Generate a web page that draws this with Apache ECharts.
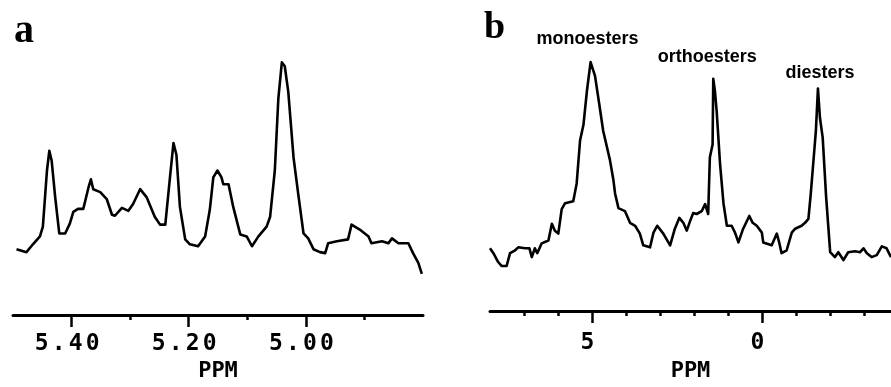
<!DOCTYPE html>
<html>
<head>
<meta charset="utf-8">
<title>31P NMR spectra</title>
<script src="https://cdn.jsdelivr.net/npm/echarts@6/dist/echarts.min.js"></script>
<style>
  html, body { margin: 0; padding: 0; background: #fff; }
  #chart { width: 891px; height: 387px; }
</style>
</head>
<body>
<div id="chart"></div>
<script>
// panel a - chemical shift (ppm) and signal height
const specAPpm = [5.494, 5.477, 5.466, 5.454, 5.449, 5.442, 5.438, 5.434, 5.428, 5.421,
  5.411, 5.403, 5.397, 5.389, 5.380, 5.371, 5.367, 5.363, 5.351, 5.340,
  5.331, 5.326, 5.314, 5.303, 5.295, 5.283, 5.272, 5.258, 5.249, 5.240,
  5.232, 5.226, 5.221, 5.215, 5.206, 5.198, 5.184, 5.172, 5.164, 5.158,
  5.151, 5.144, 5.141, 5.132, 5.124, 5.112, 5.101, 5.092, 5.081, 5.067,
  5.061, 5.053, 5.047, 5.041, 5.036, 5.030, 5.021, 5.013, 5.004, 4.996,
  4.987, 4.976, 4.967, 4.962, 4.947, 4.928, 4.922, 4.908, 4.893, 4.888,
  4.870, 4.859, 4.853, 4.842, 4.825, 4.817, 4.808, 4.802]
const specAInt = [67, 64, 72, 80, 90, 147, 167, 157, 120, 83,
  83, 93, 105, 108, 108, 130, 138, 128, 125, 118,
  102, 101, 109, 106, 113, 128, 120, 100, 92, 92,
  140, 175, 163, 110, 77, 72, 70, 80, 107, 140,
  147, 140, 133, 133, 110, 82, 80, 70, 80, 90,
  100, 147, 220, 257, 253, 227, 160, 123, 83, 78,
  67, 64, 63, 73, 75, 77, 92, 87, 80, 73,
  75, 73, 78, 73, 73, 63, 53, 42]

// panel b
const specBPpm = [8.00, 7.90, 7.76, 7.66, 7.51, 7.41, 7.26, 7.17, 6.97, 6.84,
  6.77, 6.68, 6.61, 6.48, 6.28, 6.18, 6.09, 5.99, 5.89, 5.79,
  5.55, 5.45, 5.35, 5.25, 5.15, 5.04, 4.91, 4.78, 4.67, 4.47,
  4.37, 4.32, 4.22, 4.03, 3.88, 3.73, 3.59, 3.49, 3.29, 3.19,
  3.08, 2.90, 2.70, 2.56, 2.43, 2.31, 2.21, 2.11, 2.02, 1.92,
  1.77, 1.67, 1.58, 1.53, 1.45, 1.43, 1.38, 1.33, 1.23, 1.13,
  1.03, 0.89, 0.79, 0.69, 0.55, 0.37, 0.27, 0.15, 0.00, -0.04,
  -0.29, -0.44, -0.51, -0.58, -0.73, -0.88, -0.98, -1.17, -1.27, -1.37,
  -1.44, -1.51, -1.59, -1.65, -1.71, -1.79, -1.89, -2.01, -2.15, -2.25,
  -2.40, -2.54, -2.74, -2.89, -2.99, -3.09, -3.23, -3.38, -3.53, -3.67, -3.80]
const specBInt = [64, 59, 50, 46, 46, 59, 62, 65, 64, 64,
  55, 64, 59, 69, 72, 89, 82, 79, 104, 110,
  112, 130, 174, 190, 224, 254, 240, 210, 184, 154,
  134, 120, 105, 102, 90, 87, 79, 67, 65, 80,
  87, 79, 67, 84, 95, 90, 82, 92, 100, 99,
  102, 109, 99, 157, 170, 237, 224, 204, 150, 110,
  87, 87, 80, 70, 84, 97, 90, 87, 80, 70,
  67, 79, 70, 59, 62, 80, 84, 87, 90, 94,
  120, 150, 184, 227, 197, 177, 117, 60, 55, 60,
  52, 60, 61, 60, 64, 59, 55, 57, 66, 64, 55]

const aMajorTicks = [5.4, 5.2, 5.0]
const aMinorTicks = [5.3, 5.1, 4.9]
const bMajorTicks = [5, 0]
const bMinorTicks = [7, 6, 4, 3, 2, 1, -1, -2, -3]

const peakNames = ['monoesters', 'orthoesters', 'diesters']
const peakPpm = [5.04, 1.43, -1.65]
const peakInt = [254, 237, 227]

const INK = '#000'
const MONO = '"DejaVu Sans Mono", "Liberation Mono", monospace'

function pair(xs, ys) {
  return xs.map((x, i) => [x, ys[i]])
}

// plotter-like wide digits: every character in its own fixed cell
function cells(str) {
  return str.split('').map(c => '{c|' + c + '}').join('')
}

const tickLabelStyle = {
  color: INK,
  padding: [0, 9, 0, 0],
  rich: {
    c: { width: 17, align: 'center', fontFamily: MONO, fontWeight: 'bold', fontSize: 23, color: INK }
  }
}

function majorAxis(grid, min, max, inverse, ticks, fmt, labelMargin, nameGap) {
  return {
    type: 'value', gridIndex: grid, position: 'bottom', min: min, max: max, inverse: inverse,
    name: 'PPM', nameLocation: 'middle', nameGap: nameGap,
    nameTextStyle: { fontFamily: MONO, fontWeight: 'bold', fontSize: 22, color: INK },
    axisLine: { show: true, onZero: false, lineStyle: { color: INK, width: 3 } },
    axisTick: { show: true, inside: false, customValues: ticks, length: 12, lineStyle: { color: INK, width: 2.5 } },
    axisLabel: Object.assign({ customValues: ticks, margin: labelMargin, formatter: v => cells(fmt(v)) }, tickLabelStyle),
    splitLine: { show: false }
  }
}

function minorAxis(grid, min, max, inverse, ticks) {
  return {
    type: 'value', gridIndex: grid, position: 'bottom', min: min, max: max, inverse: inverse,
    axisLine: { show: false, onZero: false },
    axisTick: { show: true, inside: false, customValues: ticks, length: 5, lineStyle: { color: INK, width: 2.5 } },
    axisLabel: { show: false },
    splitLine: { show: false }
  }
}

const chart = echarts.init(document.getElementById('chart'))

chart.setOption({
  animation: false,
  backgroundColor: '#fff',
  grid: [
    { left: 13, right: 468, top: 20, bottom: 67 },
    { left: 490, right: 0, top: 20, bottom: 70 }
  ],
  xAxis: [
    majorAxis(0, 4.8, 5.5, true, aMajorTicks, v => v.toFixed(2), 17, 44),
    minorAxis(0, 4.8, 5.5, true, aMinorTicks),
    majorAxis(1, -3.8, 8, true, bMajorTicks, v => String(v), 21, 49),
    minorAxis(1, -3.8, 8, true, bMinorTicks)
  ],
  yAxis: [
    { type: 'value', gridIndex: 0, min: 0, max: 300, show: false },
    { type: 'value', gridIndex: 1, min: 0, max: 297, show: false }
  ],
  graphic: [
    { type: 'text', left: 14, top: 12, style: { text: 'a', fontFamily: '"Liberation Serif", serif', fontWeight: 'bold', fontSize: 40, fill: INK } },
    { type: 'text', left: 484, top: 9, style: { text: 'b', fontFamily: '"Liberation Serif", serif', fontWeight: 'bold', fontSize: 38, fill: INK } }
  ],
  series: [
    {
      type: 'line', xAxisIndex: 0, yAxisIndex: 0,
      data: pair(specAPpm, specAInt),
      showSymbol: false, silent: true,
      lineStyle: { color: INK, width: 2.6, join: 'round' }
    },
    {
      type: 'line', xAxisIndex: 2, yAxisIndex: 1,
      data: pair(specBPpm, specBInt),
      showSymbol: false, silent: true,
      lineStyle: { color: INK, width: 2.6, join: 'round' },
      markPoint: {
        symbol: 'circle', symbolSize: 0, silent: true,
        label: {
          show: true, position: 'inside', formatter: '{b}', color: INK,
          fontFamily: '"Liberation Sans", sans-serif', fontWeight: 'bold', fontSize: 18
        },
        data: peakNames.map((n, i) => ({
          name: n, coord: [peakPpm[i], peakInt[i]],
          label: { offset: [[-3, -23], [-6, -22], [2, -16]][i] }
        }))
      }
    }
  ]
})
</script>
</body>
</html>
